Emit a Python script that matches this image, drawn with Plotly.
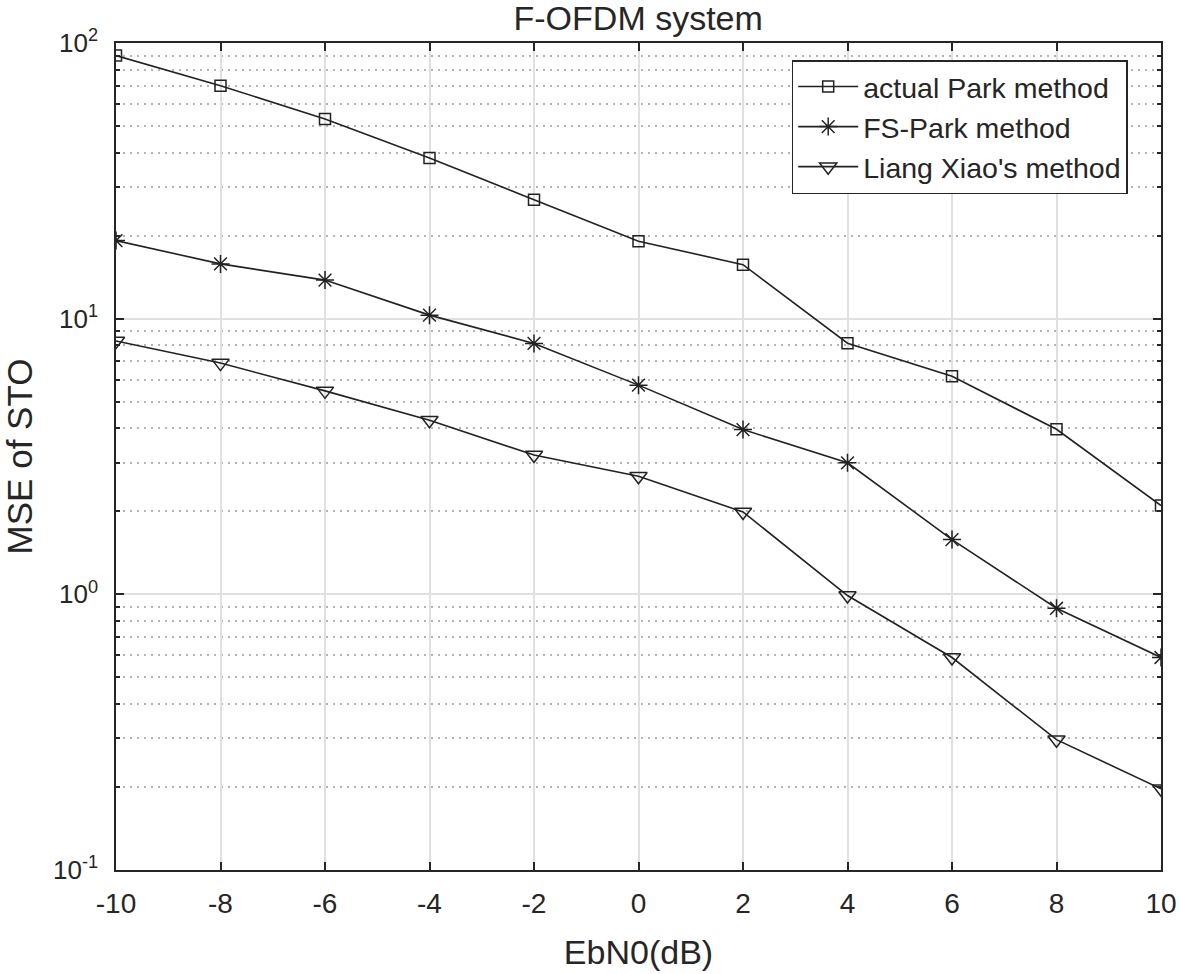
import plotly.graph_objects as go

ebn0 = [-10, -8, -6, -4, -2, 0, 2, 4, 6, 8, 10]
actual_park = [90, 70, 53, 38.3, 27, 19.1, 15.7, 8.15, 6.18, 3.97, 2.1]
fs_park = [19.2, 15.8, 13.8, 10.3, 8.13, 5.74, 3.96, 3.0, 1.58, 0.89, 0.59]
liang_xiao = [8.3, 6.9, 5.47, 4.28, 3.2, 2.68, 1.99, 0.99, 0.59, 0.297, 0.197]

series_names = ["actual Park method", "FS-Park method", "Liang Xiao's method"]
x_ticks = [-10, -8, -6, -4, -2, 0, 2, 4, 6, 8, 10]
y_ticks = [0.1, 1, 10, 100]
y_ticklabels = ["10<sup>-1</sup>", "10<sup>0</sup>", "10<sup>1</sup>", "10<sup>2</sup>"]
y_minor = [k * 10.0 ** e for e in (-1, 0, 1) for k in range(2, 10)]

FONT = "Liberation Sans, Arial, Helvetica, sans-serif"
INK = "#262626"
LINE = "#222222"

fig = go.Figure()
fig.add_trace(go.Scatter(
    x=ebn0, y=actual_park, name=series_names[0], mode="lines+markers",
    line=dict(color=LINE, width=1.6),
    marker=dict(symbol="square-open", size=11, color=LINE, line=dict(width=1.5, color=LINE)),
))
fig.add_trace(go.Scatter(
    x=ebn0, y=fs_park, name=series_names[1], mode="lines+markers",
    line=dict(color=LINE, width=1.6),
    marker=dict(symbol="asterisk-open", size=15, color=LINE, line=dict(width=1.5, color=LINE)),
))
fig.add_trace(go.Scatter(
    x=ebn0, y=liang_xiao, name=series_names[2], mode="lines+markers",
    line=dict(color=LINE, width=1.6),
    marker=dict(symbol="triangle-down-open", size=15, color=LINE, line=dict(width=1.5, color=LINE)),
))

fig.update_layout(
    width=1179, height=974,
    paper_bgcolor="white", plot_bgcolor="white",
    margin=dict(l=116, r=18, t=43, b=104, autoexpand=False),
    font=dict(family=FONT, color=INK, size=28),
    title=dict(text="F-OFDM system", x=0.5413, xanchor="center", y=0.981, yanchor="middle",
               font=dict(size=34, color=INK, family=FONT)),
    showlegend=True,
    legend=dict(x=0.6466, y=0.9794, xanchor="left", yanchor="top",
                bgcolor="white", bordercolor=INK, borderwidth=1.5,
                font=dict(size=28.5, color=INK, family=FONT),
                itemwidth=60, tracegroupgap=0),
)

fig.update_xaxes(
    range=[-10, 10], tickvals=x_ticks, ticktext=[str(v) for v in x_ticks],
    showgrid=True, gridcolor="#e0e0e0", gridwidth=1.5,
    showline=True, linecolor=INK, linewidth=1.5, mirror="ticks",
    ticks="inside", ticklen=8, tickwidth=1.5, tickcolor=INK,
    tickfont=dict(size=28, color=INK), ticklabelstandoff=8,
    zeroline=False,
    title=dict(text="EbN0(dB)", font=dict(size=34, color=INK), standoff=22),
)
fig.update_yaxes(
    type="log", range=[-1, 2], tickvals=y_ticks, ticktext=y_ticklabels,
    showgrid=True, gridcolor="#e0e0e0", gridwidth=1.5,
    showline=True, linecolor=INK, linewidth=1.5, mirror="ticks",
    ticks="inside", ticklen=8, tickwidth=1.5, tickcolor=INK,
    tickfont=dict(size=26, color=INK), ticklabelstandoff=11,
    minor=dict(tickvals=y_minor, showgrid=True, griddash="1.5px,5.5px", gridcolor="#b4b4b4",
               gridwidth=1.5, ticks="inside", ticklen=4, tickwidth=1.5, tickcolor=INK),
    zeroline=False,
    title=dict(text="MSE of STO", font=dict(size=35, color=INK), standoff=17),
)

fig.write_html("out.html", config={"displayModeBar": False},
               post_script="document.body.style.margin='0';")
